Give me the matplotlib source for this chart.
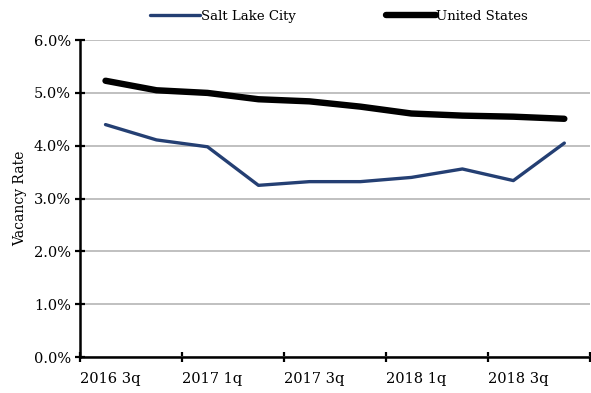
import matplotlib
matplotlib.use("Agg")
import matplotlib.pyplot as plt
import numpy as np
from matplotlib.ticker import FuncFormatter

plt.rcParams['font.family'] = ['DejaVu Serif']

quarters = ['2016 3q', '2016 4q', '2017 1q', '2017 2q', '2017 3q',
            '2017 4q', '2018 1q', '2018 2q', '2018 3q', '2018 4q']
salt_lake = [4.40, 4.11, 3.98, 3.25, 3.32, 3.32, 3.40, 3.56, 3.34, 4.05]
united_states = [5.23, 5.05, 5.00, 4.88, 4.84, 4.74, 4.61, 4.57, 4.55, 4.51]
tick_labels = ['2016 3q', '2017 1q', '2017 3q', '2018 1q', '2018 3q', '']

fig = plt.figure(figsize=(5.91, 3.93), dpi=100)
ax = fig.add_axes([0.1354, 0.0916, 0.8626, 0.8064])

x = np.arange(len(quarters)) + 0.5
ax.plot(x, salt_lake, color='#243F73', lw=2.4, solid_capstyle='round',
        label='Salt Lake City', zorder=3)
ax.plot(x, united_states, color='black', lw=4.6, solid_capstyle='round',
        label='United States', zorder=3)

ax.set_xlim(0, len(quarters))
ax.set_ylim(0, 6)
ax.set_yticks(np.arange(0, 7, 1))
ax.yaxis.set_major_formatter(FuncFormatter(lambda v, p: '%.1f%%' % v))
ax.set_xticks(np.arange(0, 11, 2))
ax.set_xticklabels(tick_labels, ha='left')

ax.grid(axis='y', color='#C0C0C0', lw=1.4)
ax.set_axisbelow(True)
for s in ['top', 'right']:
    ax.spines[s].set_visible(False)
for s in ['left', 'bottom']:
    ax.spines[s].set_linewidth(1.8)
ax.tick_params(axis='both', direction='inout', length=7, width=1.6,
               labelsize=10.5, colors='black')
ax.tick_params(axis='x', pad=7)
ax.tick_params(axis='y', pad=3)
ax.set_ylabel('Vacancy Rate', fontsize=10, labelpad=5)

fig.legend(loc='center', bbox_to_anchor=(0.574, 0.958), ncol=2, frameon=False,
           fontsize=9.5, handlelength=3.8, handletextpad=0.05, columnspacing=6.8)

fig.savefig('out.png', dpi=100)
